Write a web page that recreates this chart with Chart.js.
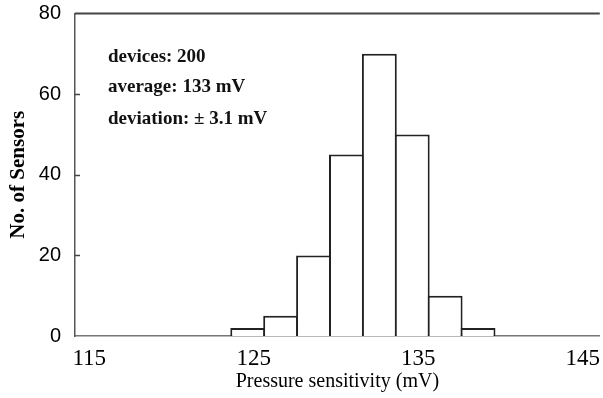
<!DOCTYPE html>
<html>
<head>
<meta charset="utf-8">
<script src="https://cdn.jsdelivr.net/npm/chart.js@4"></script>
<style>
  html, body { margin: 0; padding: 0; background: #fff; }
  #wrap { width: 603px; height: 398px; }
</style>
</head>
<body>
<div id="wrap"><canvas id="histChart" width="603" height="398"></canvas></div>
<script>
// bin centres (mV), 2 mV wide bins
const binCenters = [125, 127, 129, 131, 133, 135, 137, 139];
const sensorCounts = [2, 5, 20, 45, 70, 50, 10, 2];
const xTickValues = [115, 125, 135, 145];
const yTickValues = [0, 20, 40, 60, 80];
const summaryLines = ['devices: 200', 'average: 133 mV', 'deviation: \u00B1 3.1 mV'];

// top border, inward y ticks and the summary text block
const framePlugin = {
    id: 'frame',
    afterDatasetsDraw(chart) {
        const { ctx, chartArea, scales } = chart;
        ctx.save();
        ctx.strokeStyle = '#444';
        ctx.lineWidth = 2;
        ctx.beginPath();
        ctx.moveTo(chartArea.left, chartArea.top);
        ctx.lineTo(chartArea.right, chartArea.top);
        ctx.stroke();

        ctx.lineWidth = 1.5;
        yTickValues.slice(1, -1).forEach(v => {
            const y = Math.round(scales.y.getPixelForValue(v)) + 0.5;
            ctx.beginPath();
            ctx.moveTo(chartArea.left, y);
            ctx.lineTo(chartArea.left + 5, y);
            ctx.stroke();
        });

        ctx.fillStyle = '#111';
        ctx.font = 'bold 19px "Liberation Serif"';
        ctx.textBaseline = 'alphabetic';
        const baselines = [62, 92, 124];
        summaryLines.forEach((t, i) => ctx.fillText(t, 108, baselines[i]));
        ctx.restore();
    }
};

new Chart(document.getElementById('histChart'), {
    type: 'bar',
    data: {
        datasets: [{
            data: binCenters.map((x, i) => ({ x: x, y: sensorCounts[i] })),
            backgroundColor: '#fff',
            borderColor: '#222',
            borderWidth: 2,
            barPercentage: 1.06,
            categoryPercentage: 1
        }]
    },
    options: {
        responsive: false,
        animation: false,
        layout: { padding: { top: 13.5, left: 0, right: 0, bottom: 0 } },
        plugins: { legend: { display: false }, tooltip: { enabled: false } },
        scales: {
            x: {
                type: 'linear',
                offset: false,
                min: 114.5,
                max: 146.4,
                afterBuildTicks: s => { s.ticks = xTickValues.map(v => ({ value: v })); },
                afterFit: s => { s.height = 62; },
                grid: { display: false, drawTicks: false, offset: false },
                border: { color: '#777', width: 1.5 },
                ticks: {
                    color: '#000',
                    font: { family: 'Liberation Serif', size: 23 },
                    padding: 9,
                    labelOffset: 6,
                    maxRotation: 0,
                    autoSkip: false
                },
                title: {
                    display: true,
                    text: 'Pressure sensitivity (mV)',
                    color: '#000',
                    font: { family: 'Liberation Serif', size: 20 },
                    padding: { top: 0, bottom: 4 }
                }
            },
            y: {
                min: 0,
                max: 80,
                afterBuildTicks: s => { s.ticks = yTickValues.map(v => ({ value: v })); },
                afterFit: s => {
                    s.width = 75;
                    s.paddingTop = 0;
                    s.paddingBottom = 0;
                },
                grid: { display: false, drawTicks: false },
                border: { color: '#555', width: 1.5 },
                ticks: {
                    color: '#000',
                    font: { family: 'Liberation Sans', size: 20 },
                    padding: 14
                },
                title: {
                    display: true,
                    text: 'No. of Sensors',
                    color: '#000',
                    font: { family: 'Liberation Serif', size: 21, weight: 'bold' },
                    padding: { top: 6, bottom: 0 }
                }
            }
        }
    },
    plugins: [framePlugin]
});
</script>
</body>
</html>
